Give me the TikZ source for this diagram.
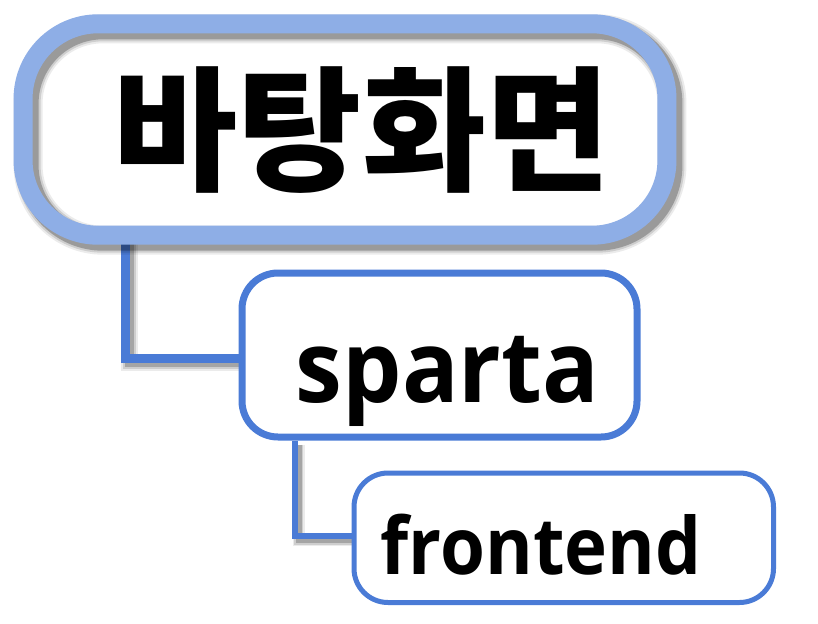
\documentclass[tikz,border=0pt]{standalone}
\usepackage{fontspec}
\newfontfamily\kr{Noto Sans CJK KR}
\newfontfamily\lat{Open Sans}
\definecolor{lightblue}{RGB}{142,174,230}
\definecolor{midblue}{RGB}{74,123,214}
\tikzset{
  bigbox/.style={draw=lightblue, fill=white, line width=19pt, rounded corners=75pt, inner sep=0pt},
  midbox/.style={draw=midblue, fill=white, line width=7pt, rounded corners=36pt, inner sep=0pt},
  smallbox/.style={draw=midblue, fill=white, line width=5pt, rounded corners=34pt, inner sep=0pt},
  link/.style={draw=midblue},
  shade/.style={draw=black, draw opacity=#1},
  lbl/.style={inner sep=0pt, text=black},
}
\begin{document}
\begin{tikzpicture}[x=1pt,y=-1pt]
\useasboundingbox (0,0) rectangle (818,623);
% coordinates for connector corners
\coordinate (k1) at (125.5,358);
\coordinate (k2) at (294.5,536);
% boxes as nodes (positions)
\path (345,129.5) node[minimum width=643.5pt, minimum height=211pt, inner sep=0pt] (b1) {};
% connectors shadows
\foreach \w/\o in {17/0.08, 13/0.12, 9/0.2} {
  \draw[shade=\o, line width=\w pt, transform canvas={shift={(4pt,-4pt)}}] (k1 |- b1.south) |- (k1 -| 242,0);
}
% connector 1
\draw[link, line width=9pt] (k1 |- b1.south) |- (k1 -| 244,0) coordinate (e1);
% box1 fill, shadow, stroke
\fill[white, rounded corners=75pt] (b1.north west) rectangle (b1.south east);
\begin{scope}[transform canvas={shift={(5pt,-5pt)}}]
\draw[shade=0.08, line width=29pt, rounded corners=75pt] (b1.north west) rectangle (b1.south east);
\draw[shade=0.12, line width=25pt, rounded corners=75pt] (b1.north west) rectangle (b1.south east);
\draw[shade=0.25, line width=21pt, rounded corners=75pt] (b1.north west) rectangle (b1.south east);
\end{scope}
\draw[draw=lightblue, line width=19pt, rounded corners=75pt] (b1.north west) rectangle (b1.south east);
% box 2
\node[midbox, minimum width=395pt, minimum height=164pt] (b2) at (439.5,355) {};
% connector 2 shadow
\foreach \w/\o in {12/0.08, 9/0.12, 6/0.2} {
  \draw[shade=\o, line width=\w pt, transform canvas={shift={(4pt,-4pt)}}] (k2 |- b2.south) |- (k2 -| 352,0);
}
\draw[link, line width=6pt] (k2 |- b2.south) |- (k2 -| 354,0);
% box 3
\node[smallbox, minimum width=419.5pt, minimum height=129.5pt] (b3) at (563.75,537.75) {};
% labels
\node[lbl, anchor=center] (t1) at (362,130.5) {\kr\bfseries\fontsize{135}{135}\selectfont 바탕화면};
\node[lbl, anchor=base] (t2) at (447.5,402) {\scalebox{0.94}[1]{\lat\bfseries\fontsize{100}{100}\selectfont sparta}};
\node[lbl, anchor=base] (t3) at (541,574) {\scalebox{0.92}[1]{\lat\bfseries\fontsize{79}{79}\selectfont frontend}};
\end{tikzpicture}
\end{document}
